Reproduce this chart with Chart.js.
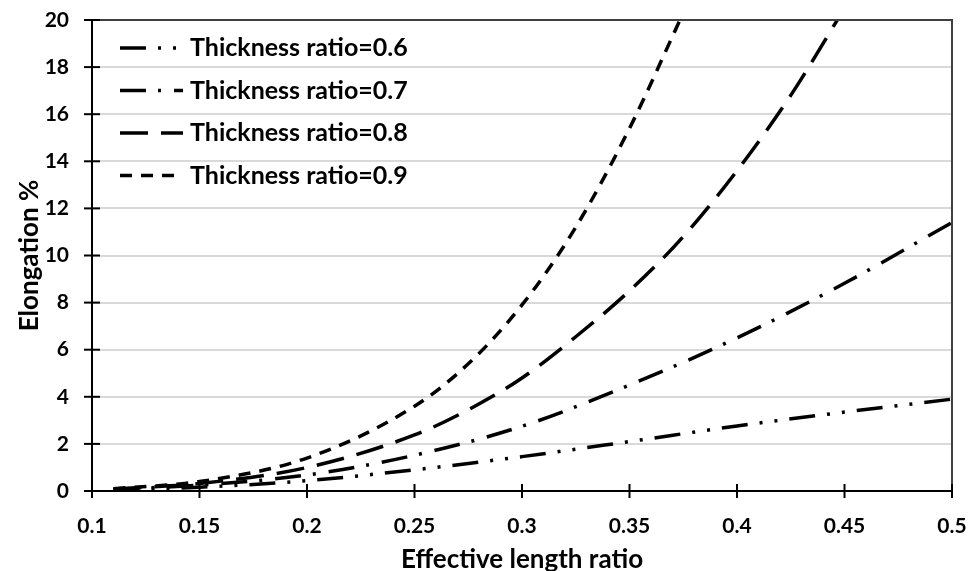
<!DOCTYPE html>
<html>
<head>
<meta charset="utf-8">
<script src="https://cdn.jsdelivr.net/npm/chart.js@4/dist/chart.umd.min.js"></script>
<style>
  html, body { margin: 0; padding: 0; background: #fff; }
  #wrap { width: 979px; height: 571px; }
</style>
</head>
<body>
<div id="wrap"><canvas id="chart" width="979" height="571"></canvas></div>
<script>
// values
var seriesLabels = ['Thickness ratio=0.6', 'Thickness ratio=0.7', 'Thickness ratio=0.8', 'Thickness ratio=0.9'];

var x06 = [0.11, 0.15, 0.2, 0.25, 0.3, 0.35, 0.4, 0.45, 0.5];
var y06 = [0.05, 0.16, 0.44, 0.9, 1.46, 2.1, 2.76, 3.35, 3.9];

var x07 = [0.11, 0.15, 0.2, 0.25, 0.3, 0.35, 0.4, 0.45, 0.5];
var y07 = [0.07, 0.25, 0.68, 1.52, 2.75, 4.5, 6.5, 8.82, 11.4];

var x08 = [0.11, 0.15, 0.2, 0.25, 0.275, 0.3, 0.325, 0.35, 0.375, 0.4, 0.425, 0.45];
var y08 = [0.09, 0.32, 1.0, 2.38, 3.45, 4.8, 6.55, 8.5, 10.8, 13.6, 16.8, 20.5];

var x09 = [0.11, 0.15, 0.2, 0.25, 0.275, 0.3, 0.325, 0.35, 0.375];
var y09 = [0.1, 0.4, 1.4, 3.6, 5.4, 7.9, 11.2, 15.4, 20.3];

var xTickLabels = ['0.1', '0.15', '0.2', '0.25', '0.3', '0.35', '0.4', '0.45', '0.5'];
var yTickLabels = ['0', '2', '4', '6', '8', '10', '12', '14', '16', '18', '20'];

var dashes = [
   [26, 12, 3, 12, 3, 12],
   [26, 12, 3, 13],
   [28, 13],
   [12, 9]
];

function pts(xs, ys) {
   var out = [];
   for (var i = 0; i < xs.length; i++) out.push({x: xs[i], y: ys[i]});
   return out;
}

var FONT = 'Lato, "Open Sans", sans-serif';

function makeSet(i, xs, ys) {
   return {
      label: seriesLabels[i],
      data: pts(xs, ys),
      showLine: true,
      borderColor: '#000',
      backgroundColor: '#000',
      borderWidth: 3.5,
      borderDash: dashes[i],
      borderCapStyle: 'butt',
      pointRadius: 0,
      cubicInterpolationMode: 'monotone',
      fill: false
   };
}

// frame, crossing tick marks and the in-plot legend
var decor = {
   id: 'decor',
   afterDatasetsDraw: function (chart) {
      var ctx = chart.ctx;
      var a = chart.chartArea;
      ctx.save();
      ctx.lineWidth = 2;
      ctx.strokeStyle = '#404040';
      ctx.beginPath();
      ctx.moveTo(a.left, a.top);
      ctx.lineTo(a.right, a.top);
      ctx.lineTo(a.right, a.bottom);
      ctx.stroke();

      ctx.strokeStyle = '#000';
      ctx.beginPath();
      ctx.moveTo(a.left, a.top);
      ctx.lineTo(a.left, a.bottom);
      ctx.lineTo(a.right, a.bottom);
      ctx.stroke();

      var ys = chart.scales.y;
      ys.ticks.forEach(function (t) {
         var p = ys.getPixelForValue(t.value);
         ctx.beginPath();
         ctx.moveTo(a.left - 8, p);
         ctx.lineTo(a.left + 8, p);
         ctx.stroke();
      });
      var xs = chart.scales.x;
      xs.ticks.forEach(function (t) {
         var p = xs.getPixelForValue(t.value);
         ctx.beginPath();
         ctx.moveTo(p, a.bottom - 7);
         ctx.lineTo(p, a.bottom + 7);
         ctx.stroke();
      });

      // legend
      ctx.font = 'bold 25px ' + FONT;
      ctx.textBaseline = 'middle';
      ctx.fillStyle = '#000';
      chart.data.datasets.forEach(function (ds, i) {
         var y = 48 + i * 42.5;
         ctx.lineWidth = 3.5;
         ctx.lineCap = 'butt';
         ctx.setLineDash(ds.borderDash);
         ctx.beginPath();
         ctx.moveTo(120, y);
         ctx.lineTo(183, y);
         ctx.stroke();
         ctx.setLineDash([]);
         ctx.fillText(ds.label, 190, y);
      });
      ctx.restore();
   }
};

var ctx = document.getElementById('chart').getContext('2d');
var chart = new Chart(ctx, {
   type: 'scatter',
   data: {
      datasets: [
         makeSet(0, x06, y06),
         makeSet(1, x07, y07),
         makeSet(2, x08, y08),
         makeSet(3, x09, y09)
      ]
   },
   options: {
      responsive: false,
      animation: false,
      layout: { padding: { top: 20, right: 27, left: 0, bottom: 0 } },
      plugins: {
         legend: { display: false },
         tooltip: { enabled: false }
      },
      scales: {
         x: {
            type: 'linear',
            min: 0.1,
            max: 0.5,
            afterFit: function (s) { s.height = 80; s.paddingLeft = 0; s.paddingRight = 0; },
            afterBuildTicks: function (s) {
               s.ticks = xTickLabels.map(function (l) { return {value: parseFloat(l)}; });
            },
            ticks: {
               padding: 23,
               color: '#000',
               font: { family: FONT, size: 21, weight: 'bold' },
               maxRotation: 0,
               callback: function (v, i) { return xTickLabels[i]; }
            },
            grid: { display: false, drawTicks: false },
            border: { display: false },
            title: {
               display: true,
               text: 'Effective length ratio',
               color: '#000',
               font: { family: FONT, size: 26, weight: 'bold' },
               padding: { top: 0, bottom: -4 }
            }
         },
         y: {
            min: 0,
            max: 20,
            afterFit: function (s) { s.width = 92; s.paddingTop = 0; s.paddingBottom = 0; },
            afterBuildTicks: function (s) {
               s.ticks = yTickLabels.map(function (l) { return {value: parseFloat(l)}; });
            },
            ticks: {
               padding: 23,
               color: '#000',
               font: { family: FONT, size: 21, weight: 'bold' },
               callback: function (v, i) { return yTickLabels[i]; }
            },
            grid: { color: '#d9d9d9', lineWidth: 2, drawTicks: false },
            border: { display: false },
            title: {
               display: true,
               text: 'Elongation %',
               color: '#000',
               font: { family: FONT, size: 26, weight: 'bold' },
               padding: { top: 14, bottom: 0 }
            }
         }
      }
   },
   plugins: [decor]
});
</script>
</body>
</html>
